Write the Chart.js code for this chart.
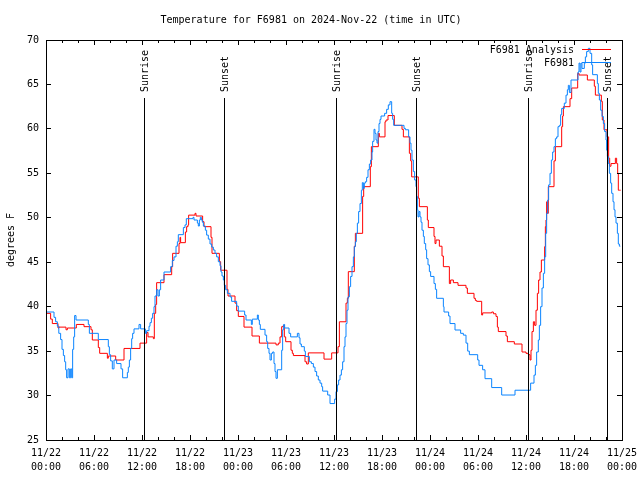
<!DOCTYPE html>
<html><head><meta charset="utf-8">
<script src="https://cdn.jsdelivr.net/npm/chart.js@4"></script>
<style>html,body{margin:0;padding:0;background:#fff}canvas{display:block}</style>
</head><body>
<canvas id="c" width="640" height="480"></canvas>
<script>
const titleText = 'Temperature for F6981 on 2024-Nov-22 (time in UTC)';
const yAxisTitle = 'degrees F';
const xTickLabels = [
  ['11/22','00:00'],['11/22','06:00'],['11/22','12:00'],['11/22','18:00'],
  ['11/23','00:00'],['11/23','06:00'],['11/23','12:00'],['11/23','18:00'],
  ['11/24','00:00'],['11/24','06:00'],['11/24','12:00'],['11/24','18:00'],
  ['11/25','00:00']
];
const sunHours = [12.3, 22.3, 36.3, 46.3, 60.3, 70.17];
const sunLabels = ['Sunrise','Sunset','Sunrise','Sunset','Sunrise','Sunset'];

const obsLabel = 'F6981';
const obsHours = [0,1.0,1.2,1.42,1.6,1.83,2.0,2.17,2.33,2.46,2.58,2.75,2.92,3.08,3.21,3.33,3.46,3.58,3.75,5.29,5.42,6.54,7.79,7.92,8.08,8.29,8.5,8.83,9.375,9.58,10.17,10.29,10.42,10.58,10.71,10.83,11.0,11.625,11.83,12.42,12.58,12.875,13.0,13.17,13.33,13.5,13.625,13.83,14.0,14.17,14.33,14.75,15.58,15.79,16.0,16.25,16.42,16.54,17.17,17.375,17.54,18.375,18.5,18.92,19.04,19.17,19.29,19.42,19.54,19.67,19.92,20.08,20.29,20.5,20.71,20.92,21.125,21.33,21.54,21.75,21.875,22.0,22.17,22.29,22.46,22.67,23.0,23.2,23.83,24.04,24.83,25.0,25.67,25.79,26.42,26.54,26.67,26.79,27.375,27.58,27.71,27.875,28.0,28.17,28.33,28.5,28.625,28.75,28.92,29.46,29.58,29.71,29.83,30.375,30.58,31.42,31.625,31.75,31.92,32.29,32.42,32.92,33.17,33.42,33.625,33.83,34.04,34.25,34.46,34.58,35.21,35.5,36.08,36.25,36.42,36.58,36.75,36.92,37.08,37.25,37.375,37.5,37.625,37.75,37.92,38.08,38.25,38.42,38.54,38.67,38.79,38.92,39.08,39.25,39.42,39.54,39.67,39.79,39.92,40.08,40.25,40.42,40.58,40.75,40.83,41.0,41.125,41.25,41.375,41.5,41.625,41.75,41.875,42.33,42.58,42.79,43.0,43.21,43.33,43.46,44.75,44.92,45.33,45.5,45.625,45.75,45.92,46.08,46.25,46.33,46.42,46.5,46.625,46.75,46.875,47.0,47.17,47.29,47.46,47.58,47.75,47.92,48.08,48.5,48.67,48.83,49.67,49.75,50.33,50.5,51.125,51.83,52.17,52.5,52.71,52.92,53.96,54.125,54.58,54.875,55.71,56.96,58.625,60.58,61.0,61.17,61.33,61.54,61.67,61.83,62.0,62.17,62.33,62.46,62.58,62.71,62.83,63.0,63.17,63.33,63.5,63.67,63.83,64.0,64.17,64.33,64.46,64.79,65.0,65.17,65.29,65.42,65.625,66.5,66.625,66.75,66.875,67.0,67.29,67.42,67.58,67.79,68.0,68.21,68.33,68.92,69.04,69.17,69.33,69.5,69.67,69.83,70.0,70.08,70.17,70.29,70.42,70.58,70.71,70.875,71.0,71.125,71.25,71.42,71.54,71.67,71.79];
const obsTemps = [40.0,39.4,38.8,38.3,37.8,37.0,36.3,35.2,34.5,33.8,32.9,32.0,33.0,32.0,33.0,32.0,35.2,36.6,39.0,38.5,38.0,37.0,36.3,35.5,34.6,33.9,33.0,34.0,33.6,33.0,32.0,32.6,33.2,34.0,35.3,36.4,37.0,37.5,38.0,37.5,37.0,37.3,37.8,38.2,38.7,39.25,40.0,41.2,41.9,41.2,41.9,43.0,43.9,44.5,45.2,45.6,46.8,47.3,48.1,48.9,49.2,49.9,50.05,49.75,49.4,49.07,49.75,50.05,49.75,49.5,49.07,48.6,48.05,47.6,47.05,46.7,46.37,46.0,45.6,45.06,44.6,43.9,43.45,43.0,42.4,41.9,41.5,41.1,40.6,40.07,39.5,39.06,38.5,38.0,38.6,39.06,38.5,38.0,37.45,36.8,36.06,35.3,34.75,34.0,34.75,34.9,33.6,32.7,31.94,32.9,35.1,37.4,38.0,37.6,37.0,36.6,37.0,36.5,35.8,35.5,35.0,34.4,33.8,33.6,33.2,32.7,32.2,31.75,31.4,31.0,30.5,30.06,29.1,29.6,30.44,31.2,31.75,32.3,32.9,33.8,35.5,36.6,38.1,39.6,41.1,42.25,43.4,44.5,45.6,46.75,47.3,48.25,49.4,50.7,51.6,53.1,53.95,53.3,53.9,54.06,54.55,55.4,56.05,56.5,57.4,58.6,59.95,59.5,58.75,58.4,59.7,60.6,61.07,61.45,61.75,62.2,62.7,63.06,61.75,61.07,60.4,60.06,59.9,59.1,58.4,57.6,56.5,55.2,54.25,53.5,52.4,50.9,50.1,50.7,50.1,49.5,48.6,47.9,47.1,46.4,45.4,44.7,43.94,43.4,42.6,41.95,40.94,40.0,39.4,38.95,38.1,37.375,37.0,36.8,35.9,35.0,34.6,34.0,33.4,32.9,31.9,30.9,30.06,30.6,31.4,32.3,33.4,34.9,36.25,37.9,40.0,42.1,43.75,45.6,48.25,50.5,52.0,53.7,55.0,56.5,57.4,58.0,58.9,59.1,60.25,60.4,61.6,62.3,62.9,63.8,64.4,64.9,64.1,65.5,66.4,67.4,66.4,67.4,66.8,67.4,68.1,68.7,69.06,68.5,67.2,66.1,65.1,64.0,63.25,62.1,61.4,60.6,59.7,58.75,57.6,56.9,56.1,55.0,53.9,52.75,51.8,50.9,50.1,49.4,48.25,47.05,46.8];

const anaLabel = 'F6981 Analysis';
const anaHours = [0,0.58,0.79,1.5,1.625,2.5,2.67,3.79,4.75,5.625,5.79,6.54,6.71,7.67,7.79,8.71,9.75,11.75,12.58,12.75,13.42,13.54,13.71,13.83,14.75,15.71,15.83,16.625,16.75,16.83,17.42,17.58,17.75,17.83,18.625,18.75,19.58,19.75,20.625,20.75,21.67,21.83,22.625,22.75,23.625,23.83,24.04,24.75,25.75,26.67,28.75,29.04,29.25,29.46,29.67,29.79,29.96,30.625,30.79,30.92,32.375,32.58,32.79,34.75,35.71,36.5,36.67,37.5,37.67,37.79,38.54,38.67,39.58,39.71,40.54,40.67,41.54,41.67,42.375,42.5,42.75,43.54,44.5,44.67,45.42,45.58,45.71,46.54,46.67,47.67,47.79,48.5,48.625,48.75,49.17,49.5,49.67,50.42,50.58,50.92,51.5,52.5,52.67,53.5,53.67,53.83,54.46,54.58,55.71,55.92,56.25,56.42,56.54,57.5,57.67,58.54,59.5,60.0,60.29,60.5,60.625,60.75,60.92,61.08,61.25,61.42,61.58,61.75,61.92,62.33,62.42,62.5,62.58,62.67,62.79,63.5,63.67,64.46,64.58,64.67,65.5,65.71,66.46,66.625,67.67,68.54,68.67,69.42,69.54,69.75,70.125,70.33,70.46,70.625,71.17,71.33,71.46,71.54,71.67,71.83];
const anaTemps = [40.45,39.25,38.6,38.1,37.6,37.7,37.4,37.6,38.0,37.75,37.4,36.25,35.4,34.75,34.2,34.45,34.0,35.3,35.9,37.1,36.6,36.4,39.25,40.25,42.7,43.6,44.5,46.0,47.1,47.8,47.2,48.4,49.0,49.2,50.3,50.5,50.2,49.56,49.0,47.8,46.0,45.06,44.1,41.95,41.2,40.4,39.55,38.9,37.7,36.7,35.9,35.7,35.9,36.6,37.75,37.9,36.6,36.06,35.1,34.75,34.5,33.8,33.55,34.8,34.1,34.8,35.5,38.3,40.4,40.94,43.94,46.8,48.25,52.4,53.5,55.75,58.0,59.5,59.1,60.8,61.0,61.5,60.4,59.95,59.1,57.25,56.4,54.6,52.2,51.25,49.75,48.9,47.9,47.1,47.5,46.8,45.7,44.5,42.6,43.0,42.7,42.4,42.1,41.5,40.94,40.7,40.6,39.06,39.3,39.4,39.2,38.9,37.7,37.2,36.7,36.06,35.8,34.9,34.75,34.6,34.0,35.1,37.2,38.3,37.9,39.6,41.5,43.0,43.9,45.25,46.75,49.0,49.75,51.8,50.5,53.5,56.4,58.0,60.25,61.45,62.5,63.4,64.6,66.25,66.06,65.5,64.8,63.8,63.1,61.0,59.9,59.1,56.7,55.8,56.1,56.7,56.1,55.0,53.1,53.1];

const FONT = '"DejaVu Sans Mono", "Liberation Mono", monospace';
Chart.defaults.font.family = FONT;
Chart.defaults.font.size = 10;
Chart.defaults.color = '#000';

const toXY = (hs, vs) => hs.map((h, i) => ({x: h, y: vs[i]}));

const gnuplotDecor = {
  id: 'gnuplotDecor',
  afterDatasetsDraw(chart) {
    const {ctx, chartArea: a, scales: {x, y}} = chart;
    ctx.save();
    ctx.strokeStyle = '#000';
    ctx.fillStyle = '#000';
    ctx.lineWidth = 1;
    // sunrise / sunset markers
    ctx.font = '10px ' + FONT;
    sunHours.forEach((h, i) => {
      const px = Math.floor(x.getPixelForValue(h)) + 0.5;
      ctx.beginPath();
      ctx.moveTo(px, a.top + 58);
      ctx.lineTo(px, a.bottom);
      ctx.stroke();
      ctx.save();
      ctx.translate(px + 0.5, a.top + 52);
      ctx.rotate(-Math.PI / 2);
      ctx.textAlign = 'left';
      ctx.textBaseline = 'middle';
      ctx.fillText(sunLabels[i], 0, 0);
      ctx.restore();
    });
    // frame
    ctx.strokeRect(a.left + 0.5, a.top + 0.5, a.right - a.left, a.bottom - a.top);
    // ticks (inward, mirrored)
    ctx.beginPath();
    for (let h = 0; h <= 72; h += 2) {
      const px = Math.floor(x.getPixelForValue(h)) + 0.5;
      const len = (h % 6 === 0) ? 5 : 3;
      ctx.moveTo(px, a.bottom); ctx.lineTo(px, a.bottom - len);
      ctx.moveTo(px, a.top); ctx.lineTo(px, a.top + len);
    }
    for (let v = 25; v <= 70; v += 5) {
      const py = Math.floor(y.getPixelForValue(v)) + 0.5;
      ctx.moveTo(a.left, py); ctx.lineTo(a.left + 5, py);
      ctx.moveTo(a.right, py); ctx.lineTo(a.right - 5, py);
    }
    ctx.stroke();
    // key
    const entries = [chart.data.datasets[0], chart.data.datasets[1]];
    entries.forEach((ds, i) => {
      const ly = a.top + 9.5 + 13 * i;
      ctx.textAlign = 'right';
      ctx.textBaseline = 'middle';
      ctx.fillStyle = '#000';
      ctx.fillText(ds.label, 574, ly + 0.5);
      ctx.strokeStyle = ds.borderColor;
      ctx.beginPath();
      ctx.moveTo(582, Math.floor(ly) + 0.5);
      ctx.lineTo(611, Math.floor(ly) + 0.5);
      ctx.stroke();
    });
    ctx.restore();
  }
};

new Chart(document.getElementById('c'), {
  type: 'line',
  data: {
    datasets: [
      {label: anaLabel, data: toXY(anaHours, anaTemps), borderColor: '#ff0000', borderWidth: 1,
       stepped: 'after', pointRadius: 0, fill: false, order: 1},
      {label: obsLabel, data: toXY(obsHours, obsTemps), borderColor: '#0a84ff', borderWidth: 1,
       stepped: 'after', pointRadius: 0, fill: false, order: 0}
    ]
  },
  options: {
    responsive: false,
    animation: false,
    devicePixelRatio: 1,
    layout: {padding: {left: 0, right: 18, top: 0, bottom: 0}},
    plugins: {
      legend: {display: false},
      tooltip: {enabled: false},
      title: {display: true, text: titleText, color: '#000',
              font: {family: FONT, size: 10, weight: 'normal'},
              padding: {top: 14, bottom: 14}}
    },
    scales: {
      x: {
        type: 'linear', min: 0, max: 72,
        grid: {display: false, drawTicks: false},
        border: {display: false},
        ticks: {stepSize: 6, autoSkip: false, maxRotation: 0, minRotation: 0, padding: 6,
                font: {family: FONT, size: 10, lineHeight: 1.4},
                callback: (v) => xTickLabels[Math.round(v / 6)]},
        afterFit: (s) => { s.height = 40; s.paddingLeft = 0; s.paddingRight = 0; }
      },
      y: {
        min: 25, max: 70,
        grid: {display: false, drawTicks: false},
        border: {display: false},
        ticks: {stepSize: 5, padding: 7, font: {family: FONT, size: 10}},
        title: {display: true, text: yAxisTitle, font: {family: FONT, size: 10}, padding: {top: 5.5, bottom: 0}},
        afterFit: (s) => { s.width = 46; s.paddingTop = 0; s.paddingBottom = 0; }
      }
    }
  },
  plugins: [gnuplotDecor]
});
</script>
</body></html>
